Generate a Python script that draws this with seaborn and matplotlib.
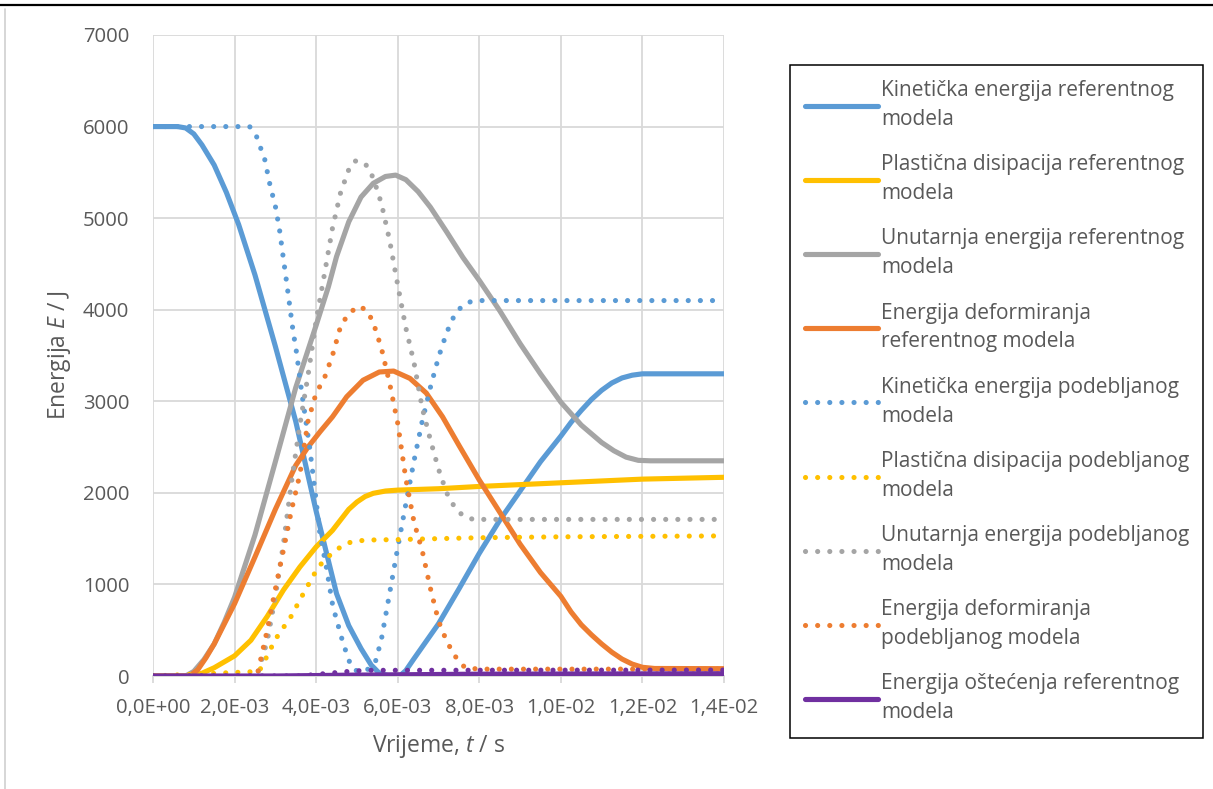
import numpy as np
import pandas as pd
import matplotlib
matplotlib.use("Agg")
import matplotlib.pyplot as plt
from matplotlib.lines import Line2D
from matplotlib.ticker import FixedLocator, FixedFormatter
import seaborn as sns

# ---------------- data (time in ms, energy in J) ----------------
t_ke_ref = [0, 0.6, 0.8, 1.0, 1.2, 1.5, 1.8, 2.1, 2.5, 3.0, 3.5, 4.0, 4.5, 4.8, 5.1, 5.35, 5.55, 5.8, 6.05,
            6.2, 6.4, 6.7, 7.0, 7.5, 8.0, 8.5, 9.0, 9.5, 10.0, 10.25, 10.5, 10.75, 11.0, 11.25, 11.5, 11.75,
            12.0, 13.0, 14.0]
e_ke_ref = [6000, 6000, 5985, 5920, 5800, 5580, 5280, 4930, 4380, 3600, 2780, 1800, 900, 550, 300, 120, 30, 0, 0,
            60, 190, 380, 570, 950, 1340, 1700, 2020, 2340, 2620, 2770, 2900, 3020, 3120, 3200, 3255, 3285,
            3300, 3300, 3300]

t_pl_ref = [0, 0.9, 1.2, 1.5, 2.0, 2.4, 2.8, 3.2, 3.6, 4.0, 4.4, 4.8, 5.0, 5.2, 5.4, 5.7, 6.0, 7.0, 8.0, 9.0,
            10.0, 11.0, 12.0, 13.0, 14.0]
e_pl_ref = [0, 0, 30, 90, 220, 390, 650, 940, 1190, 1410, 1590, 1820, 1900, 1960, 1995, 2020, 2030, 2045, 2070,
            2090, 2110, 2130, 2150, 2160, 2170]

t_ie_ref = [0, 0.8, 1.0, 1.25, 1.5, 1.75, 2.0, 2.5, 3.0, 3.5, 4.0, 4.3, 4.5, 4.8, 5.1, 5.4, 5.7, 5.95, 6.2,
            6.5, 6.8, 7.2, 7.6, 8.0, 8.5, 9.0, 9.5, 10.0, 10.5, 11.0, 11.3, 11.6, 11.9, 12.2, 14.0]
e_ie_ref = [0, 0, 50, 180, 350, 590, 860, 1540, 2340, 3150, 3830, 4250, 4580, 4960, 5230, 5380, 5455, 5470, 5420,
            5290, 5120, 4850, 4570, 4320, 3990, 3630, 3300, 2990, 2740, 2550, 2460, 2390, 2355, 2350, 2350]

t_de_ref = [0, 0.9, 1.1, 1.3, 1.5, 2.0, 2.5, 3.0, 3.5, 3.8, 4.1, 4.4, 4.75, 5.15, 5.55, 5.9, 6.3, 6.7, 7.1,
            7.5, 8.0, 8.5, 9.0, 9.5, 10.0, 10.25, 10.5, 10.75, 11.0, 11.25, 11.5, 11.75, 12.0, 12.3, 14.0]
e_de_ref = [0, 0, 70, 200, 350, 790, 1300, 1820, 2300, 2500, 2670, 2830, 3050, 3230, 3320, 3330, 3250, 3090, 2830,
            2520, 2140, 1790, 1440, 1130, 870, 700, 560, 450, 350, 260, 185, 130, 95, 82, 80]

t_ke_pod = [0, 2.37, 2.54, 2.74, 2.86, 3.01, 3.11, 3.19, 3.27, 3.35, 3.43, 3.52, 3.64, 3.84, 3.97, 4.09, 4.25,
            4.41, 4.66, 4.86, 5.0, 5.15, 5.3, 5.45, 5.6, 5.8, 6.0, 6.2, 6.4, 6.6, 6.8, 7.0, 7.2, 7.4, 7.6, 7.8,
            8.0, 14.0]
e_ke_pod = [6000, 6000, 5890, 5640, 5380, 5110, 4850, 4580, 4320, 4050, 3780, 3530, 3120, 2500, 2030, 1560, 1190,
            760, 360, 100, 55, 50, 80, 150, 400, 900, 1400, 1880, 2350, 2780, 3150, 3480, 3750, 3950, 4050, 4090,
            4100, 4100]

t_pl_pod = [0, 2.6, 2.8, 3.0, 3.2, 3.4, 3.6, 3.8, 4.0, 4.2, 4.4, 4.6, 4.8, 5.0, 5.3, 6.0, 8.0, 10.0, 14.0]
e_pl_pod = [0, 50, 220, 400, 530, 660, 830, 990, 1150, 1270, 1340, 1410, 1455, 1475, 1485, 1490, 1510, 1520, 1530]

t_ie_pod = [0, 2.55, 2.8, 3.0, 3.2, 3.4, 3.6, 3.8, 4.0, 4.2, 4.4, 4.6, 4.8, 4.95, 5.2, 5.4, 5.6, 5.8, 6.0,
            6.2, 6.4, 6.6, 6.8, 7.0, 7.2, 7.4, 7.6, 7.85, 14.0]
e_ie_pod = [0, 0, 380, 870, 1450, 2130, 2740, 3280, 3880, 4380, 4890, 5280, 5530, 5625, 5600, 5440, 5160, 4760,
            4270, 3800, 3420, 2930, 2580, 2260, 2000, 1840, 1750, 1710, 1710]

t_de_pod = [0, 2.55, 2.8, 3.0, 3.2, 3.4, 3.6, 3.8, 4.0, 4.2, 4.4, 4.6, 4.8, 5.05, 5.25, 5.4, 5.6, 5.8, 6.0,
            6.2, 6.4, 6.6, 6.8, 7.0, 7.2, 7.4, 7.65, 8.0, 14.0]
e_de_pod = [0, 0, 500, 950, 1380, 1820, 2200, 2780, 3090, 3250, 3500, 3820, 3960, 4040, 3990, 3860, 3580, 3200,
            2760, 2150, 1680, 1370, 960, 600, 380, 220, 90, 75, 75]

t_dm_ref = [0, 3.0, 5.0, 8.0, 14.0]
e_dm_ref = [0, 0, 10, 20, 25]

t_dm_pod = [0, 3.6, 4.2, 4.8, 5.2, 14.0]
e_dm_pod = [0, 0, 25, 50, 62, 65]

labels = [
    "Kinetička energija referentnog\nmodela",
    "Plastična disipacija referentnog\nmodela",
    "Unutarnja energija referentnog\nmodela",
    "Energija deformiranja\nreferentnog modela",
    "Kinetička energija podebljanog\nmodela",
    "Plastična disipacija podebljanog\nmodela",
    "Unutarnja energija podebljanog\nmodela",
    "Energija deformiranja\npodebljanog modela",
    "Energija oštećenja referentnog\nmodela",
]

x_ticks = [0, 2, 4, 6, 8, 10, 12, 14]
x_tick_labels = ["0,0E+00", "2,0E-03", "4,0E-03", "6,0E-03", "8,0E-03", "1,0E-02", "1,2E-02", "1,4E-02"]
y_ticks = [0, 1000, 2000, 3000, 4000, 5000, 6000, 7000]

# ---------------- style ----------------
sns.set_theme(style="white")
FONT = "Open Sans"
plt.rcParams["font.family"] = [FONT, "DejaVu Sans"]
plt.rcParams["mathtext.fontset"] = "custom"
plt.rcParams["mathtext.rm"] = FONT
plt.rcParams["mathtext.it"] = FONT + ":italic"

BLUE, ORANGE, GRAY, YELLOW, PURPLE = "#5B9BD5", "#ED7D31", "#A5A5A5", "#FFC000", "#7030A0"
TXT = "#595959"
GRID = "#D9D9D9"

fig = plt.figure(figsize=(12.13, 7.89), dpi=100)
fig.patch.set_facecolor("white")
ax = fig.add_axes([153 / 1213, 1 - 676 / 789, 571 / 1213, 641 / 789])

series = [
    (t_ke_ref, e_ke_ref, BLUE, "-"),
    (t_pl_ref, e_pl_ref, YELLOW, "-"),
    (t_ie_ref, e_ie_ref, GRAY, "-"),
    (t_de_ref, e_de_ref, ORANGE, "-"),
    (t_ke_pod, e_ke_pod, BLUE, ":"),
    (t_pl_pod, e_pl_pod, YELLOW, ":"),
    (t_ie_pod, e_ie_pod, GRAY, ":"),
    (t_de_pod, e_de_pod, ORANGE, ":"),
    (t_dm_ref, e_dm_ref, PURPLE, "-"),
    (t_dm_pod, e_dm_pod, PURPLE, ":"),
]

LW = 3.7
DOT = (0, (0.01, 2.35))
handles = []
for i, (tx, ey, col, ls) in enumerate(series):
    df = pd.DataFrame({"t": tx, "E": ey})
    n_before = len(ax.lines)
    sns.lineplot(data=df, x="t", y="E", ax=ax, color=col, linewidth=LW, sort=False,
                 estimator=None, legend=False)
    line = ax.lines[n_before]
    line.set_solid_capstyle("round")
    line.set_solid_joinstyle("round")
    if ls == ":":
        line.set_linestyle(DOT)
        line.set_dash_capstyle("round")
    if i < len(labels):
        h = Line2D([], [], color=col, linewidth=LW, solid_capstyle="round")
        if ls == ":":
            h.set_linestyle(DOT)
            h.set_dash_capstyle("round")
        handles.append(h)

ax.set_xlim(0, 14)
ax.set_ylim(0, 7000)
ax.xaxis.set_major_locator(FixedLocator(x_ticks))
ax.xaxis.set_major_formatter(FixedFormatter(x_tick_labels))
ax.yaxis.set_major_locator(FixedLocator(y_ticks))
ax.grid(True, color=GRID, linewidth=1.3)
ax.set_axisbelow(True)
for s in ["top", "right", "left"]:
    ax.spines[s].set_visible(False)
ax.spines["bottom"].set_color(GRID)
ax.spines["bottom"].set_linewidth(1.3)
ax.spines["bottom"].set_zorder(0.5)
ax.tick_params(axis="x", which="major", length=5, width=1.3, color=GRID, labelsize=14.6,
               labelcolor=TXT, pad=11, bottom=True)
ax.tick_params(axis="y", length=0, labelsize=14.6, labelcolor=TXT, pad=17)

ax.set_xlabel("Vrijeme, $\\mathit{t}$ / s", fontsize=16.5, color=TXT, labelpad=11)
ax.set_ylabel("Energija $\\mathit{E}$ / J", fontsize=16.5, color=TXT, labelpad=7)

leg = fig.legend(handles, labels, loc="upper left",
                 bbox_to_anchor=(790 / 1213, 1 - 65 / 789, 413 / 1213, 0.0), mode="expand",
                 fontsize=15, frameon=True, fancybox=False, framealpha=1, edgecolor="black",
                 borderpad=0.72, labelspacing=1.16, handlelength=3.5, handletextpad=0.15,
                 borderaxespad=0)
leg.get_frame().set_linewidth(1.1)
for txt in leg.get_texts():
    txt.set_color(TXT)
    txt.set_linespacing(1.5)

# page decorations
fig.add_artist(Line2D([0, 1], [1 - 5 / 789, 1 - 5 / 789], color="black", linewidth=1.6,
                      transform=fig.transFigure))
fig.add_artist(Line2D([5 / 1213, 5 / 1213], [0, 1 - 9 / 789], color="#D0D0D0", linewidth=1.2,
                      transform=fig.transFigure))

fig.savefig("out.png", dpi=100, facecolor="white")
